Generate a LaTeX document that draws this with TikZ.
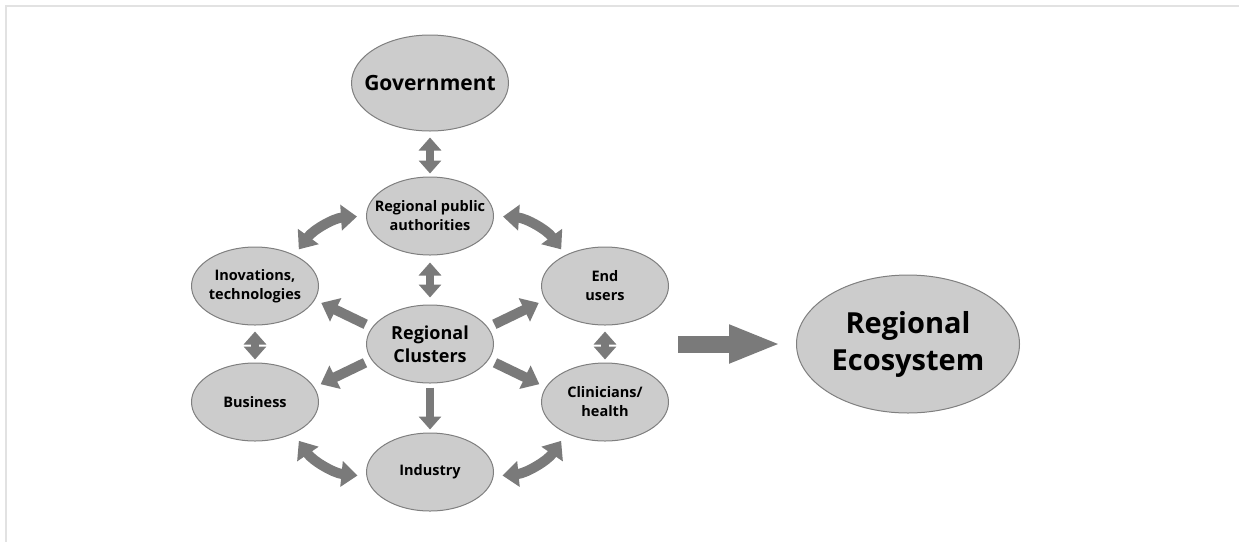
\documentclass[tikz,border=0pt]{standalone}
\usepackage{fontspec}
\setmainfont{Open Sans}
\usetikzlibrary{arrows.meta,shapes.geometric}
\definecolor{bubfill}{HTML}{CCCCCC}
\definecolor{bubline}{HTML}{7F7F7F}
\definecolor{arrgray}{HTML}{7A7A7A}
\definecolor{framegray}{HTML}{E2E2E2}
\tikzstyle{bub}=[ellipse,draw=bubline,fill=bubfill,line width=1pt,inner sep=-12pt,align=center,font=\bfseries\fontsize{14.5}{19}\selectfont,minimum width=127pt,minimum height=78pt]

\begin{document}
\begin{tikzpicture}[x=1pt,y=1pt,>={Triangle[width=22pt,length=13pt]}]
%\draw[help lines] (0,0) grid (1239,-542);
\tikzstyle{arr}=[draw=arrgray,line width=8pt,shorten <=7pt,shorten >=7pt]
\tikzstyle{arw}=[arr,line width=10pt,>={Triangle[width=25pt,length=16pt]}]
\useasboundingbox (0,0) rectangle (1239,-542);
\draw[framegray,line width=2pt] (6,-542) -- (6,-6) -- (1239,-6);

\node[bub,minimum width=157pt,minimum height=96pt,font=\bfseries\fontsize{21}{25}\selectfont] (g) at (430,-83) {Government};
\node[bub] (p) at (430,-216) {Regional public\\authorities};
\node[bub] (i) at (255,-286) {Inovations,\\technologies};
\node[bub] (u) at (605,-286) {End\\users};
\node[bub,font=\bfseries\fontsize{18}{23}\selectfont] (c) at (430,-344) {Regional\\Clusters};
\node[bub] (s) at (255,-402) {Business};
\node[bub] (h) at (605,-402) {Clinicians/\\health};
\node[bub] (n) at (430,-472) {Industry};
\node[bub,minimum width=223pt,minimum height=138pt,font=\bfseries\fontsize{29}{37}\selectfont] (r) at (908,-344) {Regional\\Ecosystem};
\coordinate (q) at (678,-344);

\path (g.south) edge[arr,<->,shorten <=6pt,shorten >=3pt] (p.north);
\path (p.south) edge[arr,<->] (c.north);
\path (i.south) edge[arr,<->,shorten <=6pt,shorten >=3pt] (s.north);
\path (u.south) edge[arr,<->,shorten <=6pt,shorten >=3pt] (h.north);
\path (c.south) edge[arr,->,shorten <=4pt,shorten >=3pt] (n.north);
\path (c.164) edge[arw,->] (i.-13);
\path (c.16) edge[arw,->] (u.193);
\path (c.195) edge[arw,->] (s.14);
\path (c.-15) edge[arw,->] (h.166);
\path (p.180) edge[arw,<->,bend right=25,shorten <=9pt] (i.38);
\path (p.0) edge[arw,<->,bend left=25,shorten <=9pt] (u.142);
\path (s.-39) edge[arw,<->,bend right=25,shorten <=9pt,shorten >=9pt] (n.184);
\path (n.-4) edge[arw,<->,bend right=25,shorten <=9pt,shorten >=9pt] (h.219);
\path (q) edge[arr,line width=17pt,>={Triangle[width=35pt,length=52pt]},->,shorten <=0pt,shorten >=15pt] (r.west);
\end{tikzpicture}
\end{document}
